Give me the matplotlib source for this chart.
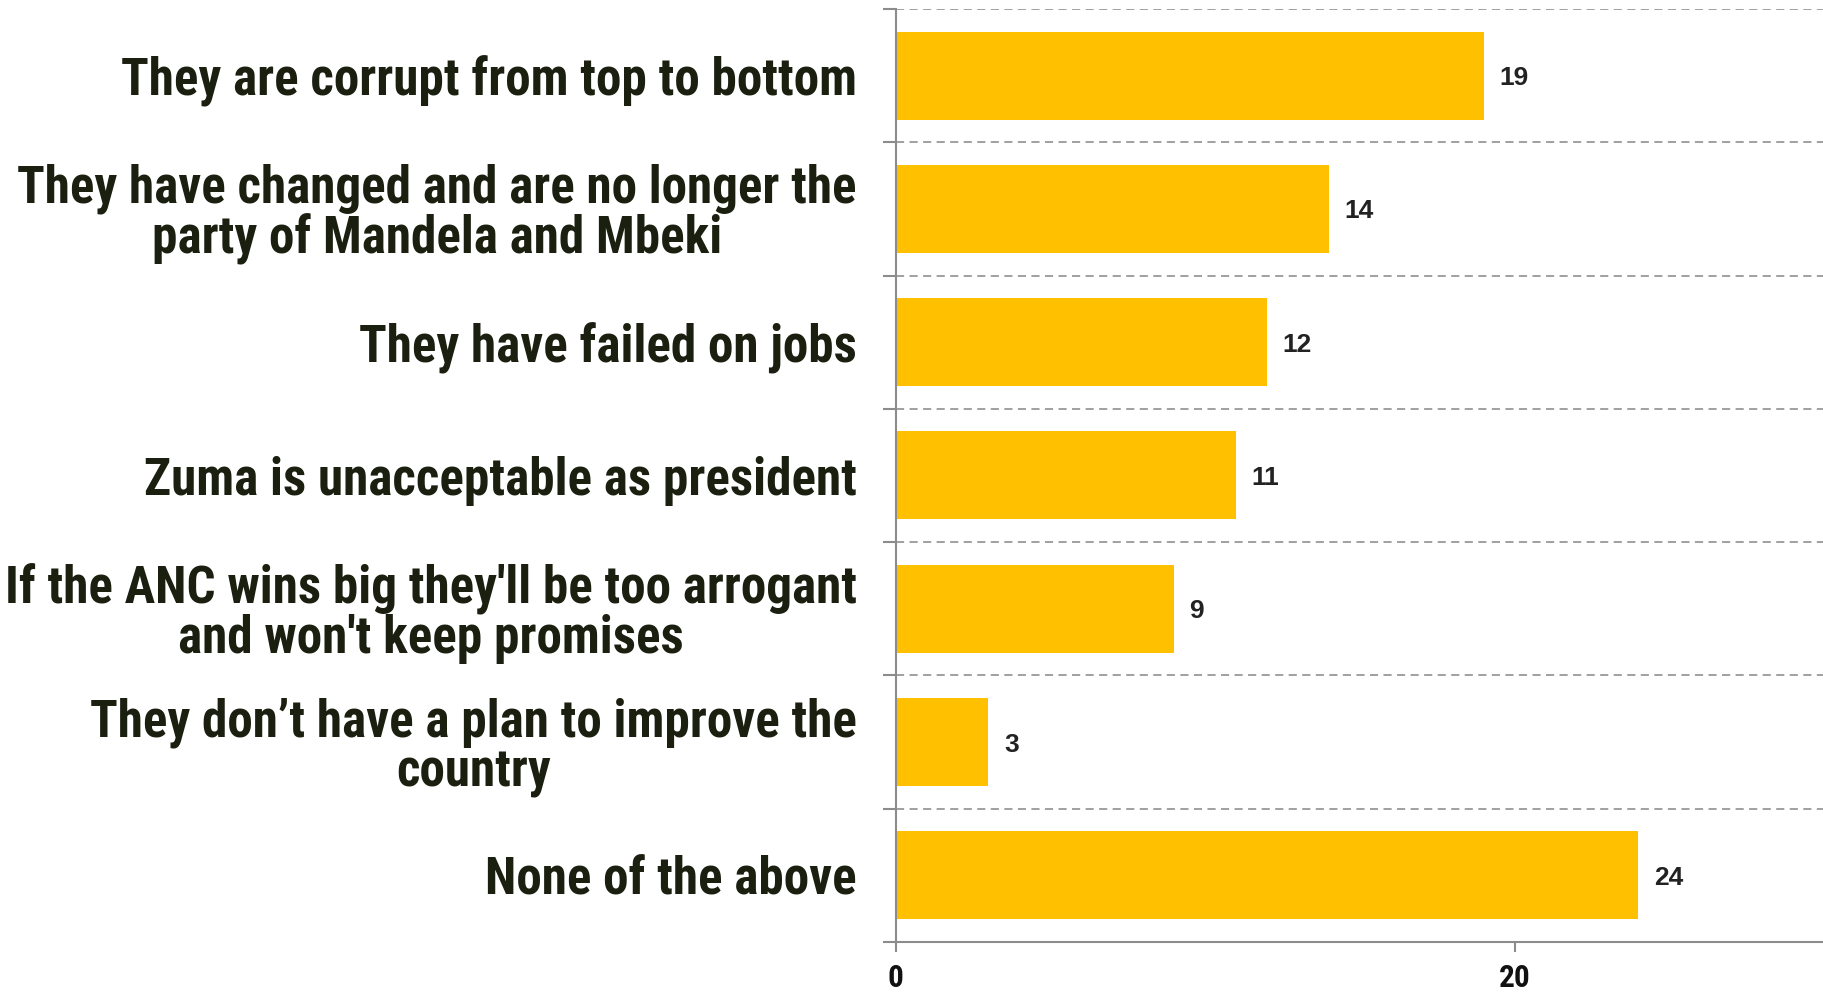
import numpy as np
import matplotlib
matplotlib.use("Agg")
import matplotlib.pyplot as plt
from matplotlib.ticker import FixedLocator

# reasons, top to bottom
categories = [
    "They are corrupt from top to bottom",
    "They have changed and are no longer the\nparty of Mandela and Mbeki",
    "They have failed on jobs",
    "Zuma is unacceptable as president",
    "If the ANC wins big they'll be too arrogant\nand won't keep promises",
    "They don\u2019t have a plan to improve the\ncountry",
    "None of the above",
]
values = [19, 14, 12, 11, 9, 3, 24]
xticks = [0, 20]

NARROW = ["Roboto Condensed", "PT Sans Narrow", "DejaVu Sans"]
WIDE = ["Liberation Sans", "DejaVu Sans"]
BAR = "#FFC000"
TXT = "#1A1F0F"
AXC = "#8C8C8C"

fig = plt.figure(figsize=(18.24, 9.93), dpi=100)
ax = fig.add_axes([0.491, 0.0514, 0.509, 0.9396])

n = len(categories)
pos = np.arange(n)
ax.barh(pos, values, height=0.66, color=BAR, zorder=2)
ax.set_ylim(n - 0.5, -0.5)
ax.set_xlim(0, 30)

for y, v in zip(pos, values):
    ax.text(v + 0.5, y, str(v), va="center_baseline", ha="left", fontsize=19,
            fontweight="bold", color="#222222", family=WIDE)

# boundaries as major ticks (dashed grid), labels on minor ticks
ax.yaxis.set_major_locator(FixedLocator(np.arange(n + 1) - 0.5))
ax.yaxis.set_minor_locator(FixedLocator(pos))
ax.set_yticklabels([], minor=False)
ax.set_yticklabels(categories, minor=True, fontsize=36.8, fontweight="bold",
                   color=TXT, family=NARROW, multialignment="center",
                   linespacing=0.98)
ax.tick_params(axis="y", which="major", length=9.5, width=1.5, color=AXC,
               direction="out")
ax.tick_params(axis="y", which="minor", length=0, pad=28)
ax.grid(axis="y", which="major", linestyle=(0, (4.5, 3)), color="#999999",
        linewidth=1.3, zorder=0)

ax.set_xticks(xticks)
ax.set_xticklabels([str(t) for t in xticks], fontsize=22.5, fontweight="bold",
                   color="#111111", family=NARROW)
ax.tick_params(axis="x", length=7.5, width=1.5, color=AXC,
               direction="out", pad=8)

for s in ["top", "right"]:
    ax.spines[s].set_visible(False)
for s in ["left", "bottom"]:
    ax.spines[s].set_color(AXC)
    ax.spines[s].set_linewidth(1.5)

fig.savefig("out.png", dpi=100)
